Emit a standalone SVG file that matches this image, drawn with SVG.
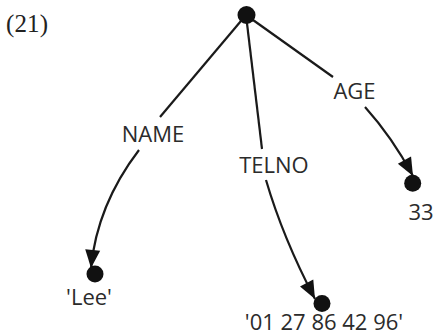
<svg xmlns="http://www.w3.org/2000/svg" width="435" height="336" viewBox="0 0 435 336">
<style>
.lbl{font-family:"Open Sans","Liberation Sans",sans-serif;font-size:22px;fill:#2b2b2b;text-anchor:middle}
.edge{fill:none;stroke:#1a1a1a;stroke-width:2.2}
.dot{fill:#111}
</style>
<defs>
<marker id="arr" markerUnits="userSpaceOnUse" viewBox="-1 -8 20 16" refX="18" refY="0" markerWidth="20" markerHeight="16" orient="auto">
<path d="M0,-7.5 L18,0 L0,7.5 Z" fill="#111"/>
</marker>
</defs>
<rect width="435" height="336" fill="#fff"/>
<text x="6" y="32" font-family="Liberation Serif,serif" font-size="25" fill="#222" textLength="42">(21)</text>
<g id="connectors">
<path class="edge" d="M246,15 L160,117"/>
<path class="edge" d="M139,150 Q97,205 91,268" marker-end="url(#arr)"/>
<path class="edge" d="M246,15 L262,149"/>
<path class="edge" d="M266,180 Q283,238 315,299" marker-end="url(#arr)"/>
<path class="edge" d="M246,15 L333,77"/>
<path class="edge" d="M365,107 Q392,137 413,176" marker-end="url(#arr)"/>
</g>
<g id="root"><circle class="dot" cx="246.5" cy="15" r="9"/></g>
<g id="lee"><circle class="dot" cx="95" cy="274" r="8.5"/><text class="lbl" x="89" y="305">'Lee'</text></g>
<g id="telno"><circle class="dot" cx="322" cy="303.5" r="8.5"/><text class="lbl" x="324" y="330">'01 27 86 42 96'</text></g>
<g id="age"><circle class="dot" cx="412.7" cy="183.3" r="8.5"/><text class="lbl" x="421" y="220">33</text></g>
<g id="labels">
<text class="lbl" x="153" y="142">NAME</text>
<text class="lbl" x="274" y="173">TELNO</text>
<text class="lbl" x="354.5" y="99">AGE</text>
</g>
</svg>
